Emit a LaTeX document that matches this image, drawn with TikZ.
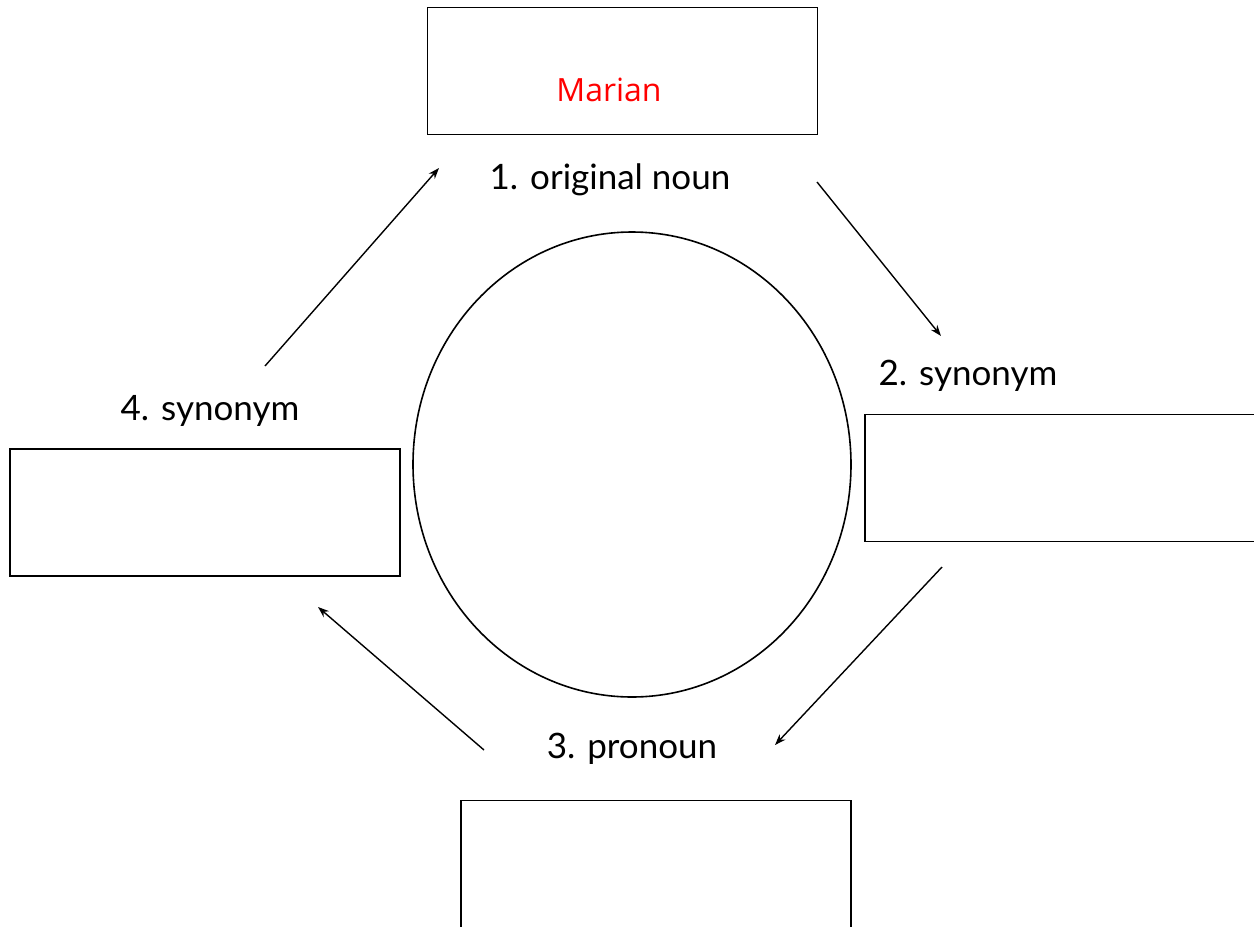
\documentclass[tikz,border=0pt]{standalone}
\usepackage{fontspec}
\setmainfont{Lato}
\newfontfamily\handfont{Open Sans}
\usetikzlibrary{arrows.meta}
\begin{document}
\begin{tikzpicture}[x=1pt,y=-1pt,
  boxst/.style={draw,line width=1.6pt,minimum width=390pt,minimum height=127pt,inner sep=0pt},
  lbl/.style={font=\fontsize{35}{40}\selectfont,inner sep=0pt,anchor=base},
  arr/.style={line width=1.4pt,-{Stealth[length=11pt,width=8pt]}}]
\useasboundingbox (0,0) rectangle (1254,927);
\clip (0,0) rectangle (1254,927);
\fill[white] (0,0) rectangle (1254,927);
% boxes
\node[boxst] (b1) at (622.5,71) {};
\node[boxst] (b2) at (1060,478) {};
\node[boxst] (b3) at (656,864) {};
\node[boxst] (b4) at (205,512.5) {};
% circle
\draw[line width=1.6pt] (632,464.5) ellipse [x radius=219, y radius=232.5];
% texts
\node[text=red,font=\handfont\fontsize{32}{38}\selectfont,inner sep=0pt,anchor=base] (m) at (609,101) {Marian};
\node[lbl] (l1) at (610,189) {1. original noun};
\node[lbl] (l2) at (968,385) {2. synonym};
\node[lbl] (l3) at (632,758) {3. pronoun};
\node[lbl] (l4) at (210,420) {4. synonym};
% arrow ends
\coordinate (a1s) at (817,182);
\coordinate (a1e) at (941,336);
\coordinate (a2s) at (942,567);
\coordinate (a2e) at (775,745);
\coordinate (a3s) at (484,750);
\coordinate (a3e) at (318,607);
\coordinate (a4s) at (265,366);
\coordinate (a4e) at (439,168);
\draw[arr] (a1s) -- (a1e);
\draw[arr] (a2s) -- (a2e);
\draw[arr] (a3s) -- (a3e);
\draw[arr] (a4s) -- (a4e);
\end{tikzpicture}
\end{document}
